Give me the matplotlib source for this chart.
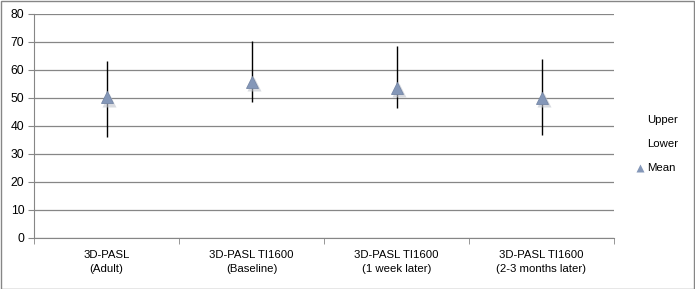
import matplotlib.pyplot as plt
import numpy as np

plt.rcParams["font.family"] = ["Liberation Sans", "DejaVu Sans"]

categories = ["3D-PASL\n(Adult)", "3D-PASL TI1600\n(Baseline)",
              "3D-PASL TI1600\n(1 week later)", "3D-PASL TI1600\n(2-3 months later)"]
upper = [63.2, 70.4, 68.6, 63.8]
lower = [36.1, 48.7, 46.5, 36.8]
mean = [50.2, 55.8, 53.6, 50.0]

W, H = 695, 289
fig = plt.figure(figsize=(W / 100, H / 100), dpi=100)
ax = fig.add_axes([34 / W, 1 - 238 / H, (614 - 34) / W, (238 - 14) / H])

x = np.arange(len(categories))
ax.vlines(x, lower, upper, color="black", lw=1.0, zorder=3)
# faint shadow under markers
ax.plot(x + 0.02, np.array(mean) - 0.8, "^", ms=10, color="#c0c4cc", mec="none", alpha=0.6, zorder=3)
ax.plot(x, mean, "^", ms=9, color="#8497b8", mec="#7587a6", mew=0.6, zorder=4)

ax.set_xlim(-0.5, len(categories) - 0.5)
ax.set_ylim(0, 80)
ax.set_yticks(range(0, 81, 10))
ax.set_xticks(x)
ax.set_xticklabels(categories, fontsize=8.2, linespacing=1.45)
ax.set_xticks(np.arange(-0.5, len(categories)), minor=True)
ax.tick_params(axis="x", which="major", length=0, pad=9)
ax.tick_params(axis="x", which="minor", length=4, color="#868686", direction="out")
ax.tick_params(axis="y", labelsize=8.7, length=4, color="#868686", pad=3)
ax.grid(axis="y", color="#868686", lw=0.9)
ax.set_axisbelow(True)
for side in ["top", "right"]:
    ax.spines[side].set_visible(False)
for side in ["left", "bottom"]:
    ax.spines[side].set_color("#868686")

# legend
fig.text(647 / W, 1 - 120 / H, "Upper", fontsize=8.2, va="center", ha="left")
fig.text(647 / W, 1 - 144 / H, "Lower", fontsize=8.2, va="center", ha="left")
fig.text(647 / W, 1 - 168 / H, "Mean", fontsize=8.2, va="center", ha="left")
fig.add_artist(plt.Line2D([640 / W], [1 - 168 / H], marker="^", ms=6,
                          color="#8497b8", mec="none", transform=fig.transFigure))

# outer frame
fig.add_artist(plt.Rectangle((0.5 / W, 0.5 / H), 1 - 1.5 / W, 1 - 1.5 / H, fill=False,
                             ec="#868686", lw=1, transform=fig.transFigure))

fig.savefig("out.png", dpi=100)
